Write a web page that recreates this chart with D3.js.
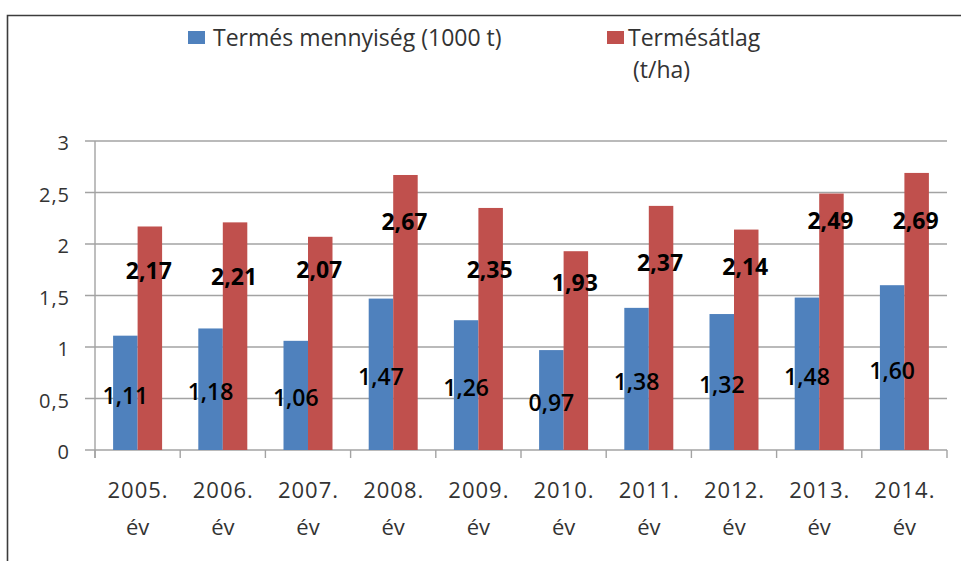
<!DOCTYPE html>
<html><head><meta charset="utf-8">
<script src="https://cdn.jsdelivr.net/npm/d3@7"></script>
<style>body{margin:0;background:#fff;overflow:hidden} svg{display:block}</style>
</head><body>
<script>
// ---- data ----
const years = ["2005.","2006.","2007.","2008.","2009.","2010.","2011.","2012.","2013.","2014."];
const yearSuffix = "év";
const seriesNames = ["Termés mennyiség (1000 t)", "Termésátlag"];
const seriesNameSecondLine = ["", "(t/ha)"];
const yieldAmount = [1.11,1.18,1.06,1.47,1.26,0.97,1.38,1.32,1.48,1.60];
const yieldAverage = [2.17,2.21,2.07,2.67,2.35,1.93,2.37,2.14,2.49,2.69];
const yTicks = [0,0.5,1,1.5,2,2.5,3];
// anchor (in data units) where the Termésátlag value labels were placed
const avgLabelAt = [1.74,1.68,1.75,2.21,1.75,1.62,1.82,1.78,2.22,2.22];

// ---- setup ----
const W = 961, H = 561;
const colors = ["#4F81BD", "#C0504D"];
const loc = d3.formatLocale({decimal: ",", thousands: " ", grouping: [3], currency: ["", ""]});
const fmtLabel = loc.format(".2f");
const fmtTick = loc.format(".1~f");
const FONT = "'Open Sans', 'Noto Sans', sans-serif";

const svg = d3.select("body").append("svg").attr("width", W).attr("height", H);

// outer frame
svg.append("path").attr("d", `M7.5,${H} L7.5,15.5 L${W},15.5`)
  .attr("fill", "none").attr("stroke", "#3c3c3c").attr("stroke-width", 1.6);

const plotLeft = 95, plotRight = 947, plotTop = 141, plotBottom = 450;
const x0 = d3.scaleBand().domain(years).range([plotLeft, plotRight]).padding(0);
const x1 = d3.scaleBand().domain([0, 1]).range([0, x0.bandwidth()]).paddingInner(0).paddingOuter(0.739);
const y = d3.scaleLinear().domain([0, 3]).range([plotBottom, plotTop]);

// gridlines + y ticks
svg.append("g").selectAll("line").data(yTicks).join("line")
  .attr("x1", plotLeft - 10).attr("x2", plotRight)
  .attr("y1", d => y(d)).attr("y2", d => y(d))
  .attr("stroke", "#a3a3a3").attr("stroke-width", 1.4);

// y axis line
svg.append("line").attr("x1", plotLeft).attr("x2", plotLeft)
  .attr("y1", y(3)).attr("y2", plotBottom + 8)
  .attr("stroke", "#a3a3a3").attr("stroke-width", 1.4);

// x ticks at category boundaries
const boundaries = years.map(d => x0(d)).concat([x0(years[years.length-1]) + x0.bandwidth()]);
svg.append("g").selectAll("line").data(boundaries).join("line")
  .attr("x1", d => d).attr("x2", d => d)
  .attr("y1", plotBottom).attr("y2", plotBottom + 8)
  .attr("stroke", "#a3a3a3").attr("stroke-width", 1.4);

// y tick labels
svg.append("g").selectAll("text").data(yTicks).join("text")
  .attr("x", 70).attr("y", d => y(d) + 9)
  .attr("text-anchor", "end")
  .attr("font-family", FONT).attr("font-size", 20).attr("letter-spacing", "1px")
  .attr("fill", "#333")
  .text(d => fmtTick(d));

// x labels
const xl = svg.append("g").selectAll("text").data(years).join("text")
  .attr("text-anchor", "middle")
  .attr("font-family", FONT).attr("font-size", 22).attr("fill", "#333");
xl.append("tspan").attr("x", d => x0(d) + x0.bandwidth()/2 + 0.5).attr("y", 498)
  .attr("letter-spacing", "1px").text(d => d);
xl.append("tspan").attr("x", d => x0(d) + x0.bandwidth()/2).attr("y", 535)
  .text(yearSuffix);

// bars
const seriesData = [yieldAmount, yieldAverage];
seriesData.forEach((vals, si) => {
  svg.append("g").selectAll("rect").data(vals).join("rect")
    .attr("x", (d, i) => x0(years[i]) + x1(si))
    .attr("width", x1.bandwidth())
    .attr("y", d => y(d))
    .attr("height", d => y(0) - y(d))
    .attr("fill", colors[si]);
});

// value labels
svg.append("g").selectAll("text").data(yieldAmount).join("text")
  .attr("x", (d, i) => x0(years[i]) + x1(0) + x1.bandwidth()/2)
  .attr("y", d => (y(d) + y(0)) / 2 + 11)
  .attr("text-anchor", "middle")
  .attr("font-family", FONT).attr("font-size", 23).attr("font-weight", 600).attr("fill", "#000")
  .text(d => fmtLabel(d));
svg.append("g").selectAll("text").data(yieldAverage).join("text")
  .attr("x", (d, i) => x0(years[i]) + x1(1) + x1.bandwidth()/2 - 1)
  .attr("y", (d, i) => y(avgLabelAt[i]) + 8)
  .attr("text-anchor", "middle")
  .attr("font-family", FONT).attr("font-size", 23).attr("font-weight", 700).attr("fill", "#000")
  .text(d => fmtLabel(d));

// legend
const legendX = [188, 607];
const legendTextX = [213, 628];
seriesNames.forEach((name, i) => {
  svg.append("rect").attr("x", legendX[i]).attr("y", 31).attr("width", 17).attr("height", 13)
    .attr("fill", colors[i]);
  const t = svg.append("text").attr("font-family", FONT).attr("font-size", 23).attr("fill", "#333");
  t.append("tspan").attr("x", legendTextX[i]).attr("y", 46).text(name);
  if (seriesNameSecondLine[i]) {
    t.append("tspan").attr("x", legendTextX[i] + 5).attr("y", 78).text(seriesNameSecondLine[i]);
  }
});
</script>
</body></html>
